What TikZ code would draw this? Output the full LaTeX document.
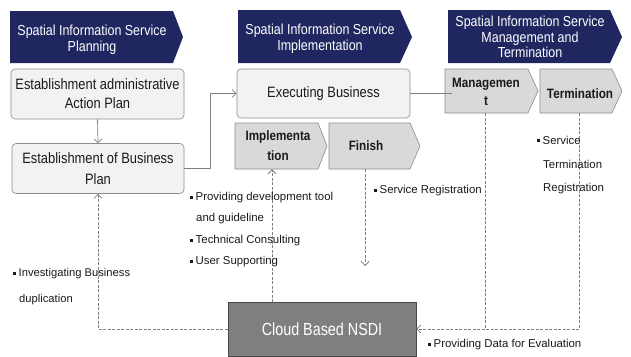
\documentclass[tikz,border=0pt]{standalone}
\usepackage{fontspec}
\setmainfont{Liberation Sans}
\newfontfamily\condf[FakeStretch=0.86]{Liberation Sans}
\newfontfamily\narf[FakeStretch=0.82]{Liberation Sans}
\usetikzlibrary{arrows.meta}
\definecolor{navy}{HTML}{1F2660}
\definecolor{boxfill}{HTML}{F2F2F2}
\definecolor{pentfill}{HTML}{D9D9D9}
\definecolor{edgec}{HTML}{8C8C8C}
\definecolor{conn}{HTML}{808080}
\definecolor{cloudfill}{HTML}{7F7F7F}
\definecolor{ink}{HTML}{1A1A1A}
\newcommand\bul{\rule[2pt]{3pt}{3pt}\hspace{2.5pt}}
\tikzset{
  hdr/.style={fill=navy, draw=none},
  hdrtext/.style={text=white, font=\condf\fontsize{14.5}{16}\selectfont, align=center, inner sep=0},
  rbox/.style={rounded corners=4pt, fill=boxfill, draw=edgec, line width=0.6pt, align=center, text=ink, font=\condf\fontsize{15}{19}\selectfont, inner sep=0},
  pent/.style={fill=pentfill, draw=edgec, line width=0.6pt},
  penttext/.style={font=\condf\bfseries\fontsize{13.6}{18}\selectfont, text=ink, align=center, inner sep=0},
  solidline/.style={draw=conn, line width=0.7pt},
  solidarrow/.style={solidline, -{Straight Barb[length=4pt,width=8pt]}},
  dashline/.style={draw=conn, line width=0.8pt, dash pattern=on 3pt off 1.5pt},
  dasharrow/.style={dashline, -{Straight Barb[length=4pt,width=8pt]}},
  note/.style={font=\fontsize{11.4}{12}\selectfont, text=ink, anchor=west, inner sep=0},
  cloudbox/.style={fill=cloudfill, draw=ink!80, line width=0.6pt, text=white, font=\narf\fontsize{17.5}{19}\selectfont, inner sep=0}
}
\begin{document}
\begin{tikzpicture}[x=1pt,y=-1pt]
\useasboundingbox[fill=white] (0,0) rectangle (631,356);

% headers
\fill[hdr] (10,11) -- (173,11) -- (183,37) -- (173,63) -- (10,63) -- cycle;
\node[hdrtext] (h1) at (92,40) {Spatial Information Service\\Planning};
\fill[hdr] (238,10) -- (400,10) -- (412,37) -- (400,63) -- (238,63) -- cycle;
\node[hdrtext] (h2) at (320,38.5) {Spatial Information Service\\Implementation};
\fill[hdr] (448,10) -- (610,10) -- (622,37) -- (610,63) -- (448,63) -- cycle;
\node[hdrtext, font=\condf\fontsize{14.5}{15.5}\selectfont] (h3) at (530,37) {Spatial Information Service\\Management and\\Termination};

% boxes
\node[rbox, minimum width=173pt, minimum height=50pt] (adm) at (97.5,94) {Establishment administrative\\Action Plan};
\node[rbox, minimum width=172pt, minimum height=50pt, font=\condf\fontsize{15}{21}\selectfont] (bplan) at (98,168.5) {Establishment of Business\\Plan};
\node[rbox, minimum width=173pt, minimum height=49pt] (exec) at (323.5,93.5) {Executing Business};

% pentagons
\path[pent] (235,123) -- (318,123) -- (327,146) -- (318,169) -- (235,169) -- cycle;
\node[penttext, minimum height=46pt, font=\condf\bfseries\fontsize{13.6}{20}\selectfont] (impl) at (278,146) {Implementa\\tion};
\path[pent] (329,123) -- (410,123) -- (420,146) -- (410,169) -- (329,169) -- cycle;
\node[penttext, minimum height=46pt] (finish) at (366,146) {Finish};
\path[pent] (445,69) -- (528,69) -- (538,91) -- (528,113) -- (445,113) -- cycle;
\node[penttext, minimum height=44pt] (mgmt) at (486,92) {Managemen\\t};
\path[pent] (540,69) -- (612,69) -- (622,91) -- (612,113) -- (540,113) -- cycle;
\node[penttext, minimum height=44pt] (term) at (580,94) {Termination};

% cloud
\node[cloudbox, minimum width=188pt, minimum height=54pt] (cloud) at (322,329) {Cloud Based NSDI};

% solid connectors
\draw[solidarrow] (adm.south) -- (bplan.north);
\coordinate (bend) at (210,168);
\draw[solidarrow] (bplan.east) -- (bplan.east -| bend) |- (exec.west);
\draw[solidline] (exec.east) -- (exec.east -| mgmt.west);

% dashed connectors
\draw[dasharrow] (cloud.west) -| (bplan.south);
\coordinate (cup) at (272,302);
\draw[dasharrow] (cup) -- (cup |- impl.south);
\coordinate (fend) at (365,266);
\coordinate (ftop) at (365,169);
\draw[dasharrow] (ftop) -- (fend);
\coordinate (mfoot) at (485,113);
\draw[dashline] (mfoot) -- (mfoot |- cloud.east);
\coordinate (tfoot) at (579,113);
\draw[dasharrow] (tfoot) |- (cloud.east);

% notes
\node[note] (n1) at (190,198) {\bul Providing development tool};
\node[note] (n2) at (196,219) {and guideline};
\node[note] (n3) at (190,241) {\bul Technical Consulting};
\node[note] (n4) at (190,262) {\bul User Supporting};
\node[note] (n5) at (374,191) {\bul Service Registration};
\node[note] (n6) at (537,140) {\bul Service};
\node[note] (n7) at (543,164) {Termination};
\node[note] (n8) at (543,189) {Registration};
\node[note, font=\fontsize{11.2}{12}\selectfont] (n9) at (13,274) {\bul Investigating Business};
\node[note, font=\fontsize{11.2}{12}\selectfont] (n10) at (19,300) {duplication};
\node[note] (n11) at (428,345) {\bul Providing Data for Evaluation};
\end{tikzpicture}
\end{document}
